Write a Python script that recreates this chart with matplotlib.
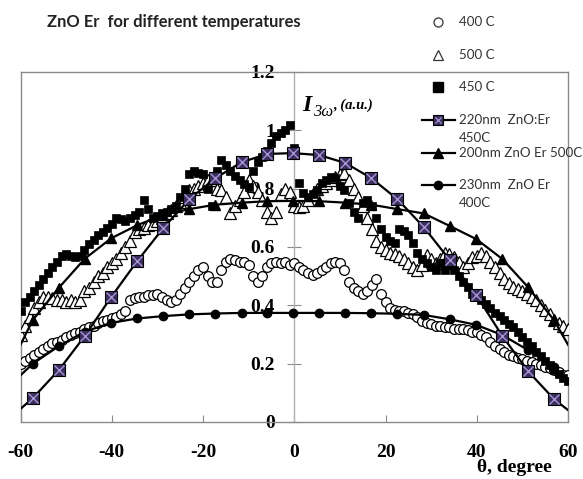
import matplotlib
matplotlib.use('Agg')
import matplotlib.pyplot as plt
from matplotlib.lines import Line2D

# ---------------- data ----------------
theta = list(range(-60, 61))

c400 = [0.20, 0.21, 0.22, 0.23, 0.24, 0.25, 0.26, 0.27, 0.275, 0.28,
        0.29, 0.30, 0.305, 0.31, 0.32, 0.325, 0.33, 0.34, 0.345, 0.35,
        0.355, 0.36, 0.37, 0.38, 0.42, 0.425, 0.43, 0.43, 0.435, 0.435,
        0.44, 0.43, 0.42, 0.41, 0.42, 0.44, 0.46, 0.48, 0.50, 0.52,
        0.53, 0.50, 0.48, 0.48, 0.52, 0.55, 0.56, 0.555, 0.55, 0.55,
        0.54, 0.50, 0.48, 0.50, 0.53, 0.545, 0.55, 0.545, 0.55, 0.54,
        0.545, 0.53, 0.52, 0.51, 0.505, 0.51, 0.52, 0.53, 0.545, 0.55,
        0.545, 0.52, 0.48, 0.46, 0.45, 0.44, 0.45, 0.47, 0.49, 0.44,
        0.41, 0.39, 0.385, 0.38, 0.38, 0.375, 0.37, 0.36, 0.345, 0.34,
        0.335, 0.33, 0.33, 0.325, 0.325, 0.32, 0.32, 0.32, 0.315, 0.31,
        0.31, 0.30, 0.29, 0.275, 0.26, 0.25, 0.24, 0.23, 0.225, 0.22,
        0.215, 0.21, 0.205, 0.20, 0.195, 0.19, 0.185, 0.18, 0.17, 0.16,
        0.16]

t500 = [0.30, 0.33, 0.36, 0.39, 0.41, 0.43, 0.43, 0.425, 0.42, 0.42,
        0.41, 0.42, 0.41, 0.42, 0.45, 0.46, 0.48, 0.50, 0.51, 0.53,
        0.545, 0.56, 0.58, 0.60, 0.62, 0.65, 0.66, 0.665, 0.675, 0.68,
        0.69, 0.70, 0.715, 0.727, 0.74, 0.755, 0.77, 0.795, 0.80, 0.81,
        0.82, 0.83, 0.83, 0.80, 0.795, 0.77, 0.717, 0.74, 0.76, 0.79,
        0.83, 0.81, 0.79, 0.76, 0.72, 0.70, 0.72, 0.78, 0.80, 0.79,
        0.74, 0.737, 0.74, 0.76, 0.78, 0.80, 0.81, 0.82, 0.83, 0.84,
        0.85, 0.853, 0.83, 0.80, 0.77, 0.74, 0.70, 0.66, 0.62, 0.60,
        0.59, 0.58, 0.575, 0.57, 0.56, 0.545, 0.53, 0.52, 0.54, 0.573,
        0.56, 0.545, 0.56, 0.58, 0.575, 0.567, 0.55, 0.53, 0.545, 0.566,
        0.57, 0.58, 0.57, 0.55, 0.53, 0.51, 0.49, 0.475, 0.463, 0.455,
        0.45, 0.44, 0.43, 0.418, 0.40, 0.384, 0.37, 0.35, 0.34, 0.33,
        0.32]

s450 = [0.38, 0.41, 0.43, 0.45, 0.47, 0.49, 0.51, 0.53, 0.55, 0.57,
        0.575, 0.57, 0.565, 0.57, 0.59, 0.61, 0.625, 0.64, 0.65, 0.665,
        0.68, 0.70, 0.695, 0.69, 0.70, 0.71, 0.72, 0.76, 0.73, 0.70,
        0.705, 0.715, 0.72, 0.73, 0.74, 0.77, 0.80, 0.85, 0.86, 0.855,
        0.85, 0.80, 0.74, 0.86, 0.90, 0.88, 0.86, 0.845, 0.83, 0.815,
        0.805, 0.86, 0.89, 0.91, 0.93, 0.955, 0.98, 0.99, 1.00, 1.02,
        0.94, 0.82, 0.785, 0.77, 0.78, 0.795, 0.82, 0.83, 0.84, 0.835,
        0.81, 0.795, 0.75, 0.72, 0.70, 0.75, 0.76, 0.74, 0.70, 0.66,
        0.634, 0.62, 0.614, 0.66, 0.655, 0.64, 0.614, 0.58, 0.56, 0.545,
        0.53, 0.52, 0.545, 0.52, 0.54, 0.52, 0.50, 0.48, 0.463, 0.44,
        0.43, 0.42, 0.405, 0.39, 0.375, 0.365, 0.35, 0.335, 0.326, 0.31,
        0.29, 0.275, 0.26, 0.24, 0.225, 0.21, 0.195, 0.18, 0.165, 0.15,
        0.14]

fit_theta = [-60, -57.3, -51.6, -45.9, -40.1, -34.4, -28.7, -23.0, -17.3, -11.5,
             -5.9, -0.3, 5.5, 11.2, 16.9, 22.6, 28.4, 34.1, 39.9, 45.6,
             51.2, 56.9, 60]
fit450 = [0.045, 0.082, 0.178, 0.295, 0.429, 0.552, 0.665, 0.764, 0.836, 0.891,
          0.919, 0.922, 0.915, 0.888, 0.836, 0.764, 0.668, 0.555, 0.435, 0.295,
          0.175, 0.079, 0.041]
fit500 = [0.265, 0.35, 0.46, 0.56, 0.63, 0.675, 0.71, 0.73, 0.745, 0.752,
          0.757, 0.758, 0.757, 0.752, 0.745, 0.73, 0.715, 0.672, 0.627, 0.559,
          0.463, 0.35, 0.265]
fit400 = [0.16, 0.20, 0.26, 0.31, 0.34, 0.355, 0.363, 0.369, 0.372, 0.374,
          0.374, 0.374, 0.374, 0.374, 0.373, 0.371, 0.367, 0.352, 0.333, 0.298,
          0.247, 0.19, 0.144]

x_ticks = [-60, -40, -20, 0, 20, 40, 60]
x_tick_labels = ['-60', '-40', '-20', '0', '20', '40', '60']
y_ticks = [0, 0.2, 0.4, 0.6, 0.8, 1.0, 1.2]
y_tick_labels = ['0', '0.2', '0.4', '0.6', '0.8', '1', '1.2']

labels = ['400 C', '500 C', '450 C', '220nm  ZnO:Er\n450C',
          '200nm ZnO Er 500C', '230nm  ZnO Er\n400C']
title = 'ZnO Er  for different temperatures'

# ---------------- figure ----------------
W, H = 583, 479
fig = plt.figure(figsize=(W / 100, H / 100), dpi=100)


def fx(px):
    return px / W


def fy(py):
    return 1 - py / H


L, R, T, B = 20.5, 568, 72, 422
ax = fig.add_axes([fx(L), fy(B), fx(R) - fx(L), fy(T) - fy(B)])
ax.set_xlim(-60, 60)
ax.set_ylim(0, 1.2)

gray = '#8a8a8a'
serif = 'Liberation Serif'
sans = 'Lato'

for s in ['top', 'right', 'bottom', 'left']:
    ax.spines[s].set_color(gray)
    ax.spines[s].set_linewidth(1.0)
ax.spines['left'].set_position(('data', 0))
ax.spines['left'].set_color('#b0b0b0')
ax.plot([-60, -60], [0, 1.2], color=gray, lw=1.0, clip_on=False, zorder=0.6)

ax.set_axisbelow(True)
ax.set_xticks(x_ticks)
ax.set_xticklabels(x_tick_labels, fontfamily=serif, fontweight='bold', fontsize=14)
ax.set_yticks(y_ticks)
ax.set_yticklabels(y_tick_labels, fontfamily=serif, fontweight='bold', fontsize=14)
ax.tick_params(axis='x', direction='in', length=5, color=gray, pad=16)
ax.tick_params(axis='y', direction='inout', length=10, color=gray, pad=9)

lw = 1.6
# data scatter
ax.plot(theta, c400, ls='none', marker='o', ms=7, mfc='white', mec='black', mew=0.9, zorder=3)
ax.plot(theta, t500, ls='none', marker='^', ms=8, mfc='white', mec='black', mew=0.9, zorder=3)
ax.plot(theta, s450, ls='none', marker='s', ms=6.4, mfc='black', mec='black', mew=0.5, zorder=3)

inner = list(range(1, len(fit_theta) - 1))
# fits
ax.plot(fit_theta, fit400, color='black', lw=lw, marker='o', ms=6, markevery=inner,
        mfc='black', mec='black', zorder=4)
ax.plot(fit_theta, fit500, color='black', lw=lw, marker='^', ms=6.5, markevery=inner,
        mfc='black', mec='black', zorder=4)
ax.plot(fit_theta, fit450, color='black', lw=lw, marker='s', ms=8.5, markevery=inner,
        mfc='#3b2f5e', mec='black', mew=0.8, zorder=4)
ax.plot(fit_theta, fit450, ls='none', marker='x', ms=6.5, markevery=inner,
        mec='#a793d6', mew=1.0, zorder=4.1)

# axis labels
fig.text(fx(302), fy(111), 'I', fontfamily=serif, fontweight='bold', fontstyle='italic',
         fontsize=17, ha='left', va='baseline')
fig.text(fx(313), fy(116), '3\u03c9', fontfamily=serif, fontstyle='italic',
         fontsize=12, ha='left', va='baseline')
fig.text(fx(333), fy(109), ', (a.u.)', fontfamily=serif, fontweight='bold', fontstyle='italic',
         fontsize=10.5, ha='left', va='baseline')
fig.text(fx(514), fy(467), '\u03b8, degree', fontfamily=serif, fontweight='bold',
         fontsize=14, ha='center', va='center')

# title
fig.text(fx(47), fy(22), title, fontfamily=sans, fontweight='bold', fontsize=11.9,
         ha='left', va='center', color='#222222')

# manual legend
tcol = '#333333'
ly = [22, 55, 87, 120, 153, 185]
hx = 438
tx = 459
ft = fig.transFigure
fig.add_artist(Line2D([fx(hx)], [fy(ly[0])], ls='none', marker='o', ms=6.5, mfc='white',
                      mec='#333333', mew=0.9, transform=ft))
fig.add_artist(Line2D([fx(hx)], [fy(ly[1])], ls='none', marker='^', ms=7, mfc='white',
                      mec='#333333', mew=0.9, transform=ft))
fig.add_artist(Line2D([fx(hx)], [fy(ly[2])], ls='none', marker='s', ms=6.5, mfc='black',
                      mec='black', transform=ft))
fig.add_artist(Line2D([fx(422), fx(455)], [fy(ly[3])] * 2, color='black', lw=lw, transform=ft))
fig.add_artist(Line2D([fx(hx)], [fy(ly[3])], ls='none', marker='s', ms=7, mfc='#3b2f5e',
                      mec='black', mew=0.8, transform=ft))
fig.add_artist(Line2D([fx(hx)], [fy(ly[3])], ls='none', marker='x', ms=5, mec='#a793d6',
                      mew=0.9, transform=ft))
fig.add_artist(Line2D([fx(422), fx(455)], [fy(ly[4])] * 2, color='black', lw=lw, transform=ft))
fig.add_artist(Line2D([fx(hx)], [fy(ly[4])], ls='none', marker='^', ms=6.5, mfc='black',
                      mec='black', transform=ft))
fig.add_artist(Line2D([fx(422), fx(455)], [fy(ly[5])] * 2, color='black', lw=lw, transform=ft))
fig.add_artist(Line2D([fx(hx)], [fy(ly[5])], ls='none', marker='o', ms=6, mfc='black',
                      mec='black', transform=ft))

for lab, y in zip(labels, ly):
    lines = lab.split('\n')
    for k, line in enumerate(lines):
        fig.text(fx(tx), fy(y + k * 18), line, fontfamily=sans, fontsize=9.6,
                 color=tcol, ha='left', va='center')

fig.savefig('out.png', dpi=100)
